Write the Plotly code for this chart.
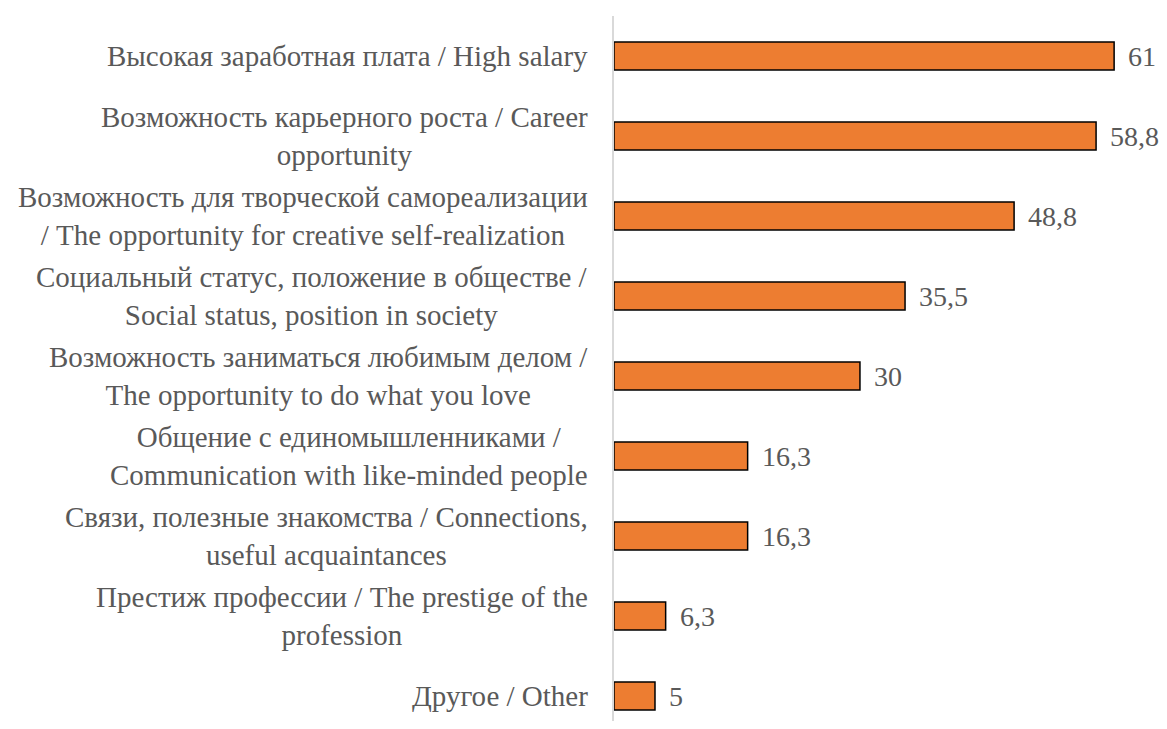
import plotly.graph_objects as go

# Answers, top to bottom as in the chart
categories = [
    "Высокая заработная плата / High salary",
    "Возможность карьерного роста / Career<br>opportunity",
    "Возможность для творческой самореализации<br>/ The opportunity for creative self-realization",
    "Социальный статус, положение в обществе /<br>Social status, position in society",
    "Возможность заниматься любимым делом /<br>The opportunity to do what you love",
    "Общение с единомышленниками /<br>Communication with like-minded people",
    "Связи, полезные знакомства / Connections,<br>useful acquaintances",
    "Престиж профессии / The prestige of the<br>profession",
    "Другое / Other",
]
values = [61, 58.8, 48.8, 35.5, 30, 16.3, 16.3, 6.3, 5]
value_labels = ["61", "58,8", "48,8", "35,5", "30", "16,3", "16,3", "6,3", "5"]

FONT = "Liberation Serif, Times New Roman, serif"
TEXT = "#595959"

fig = go.Figure(
    go.Bar(
        x=values,
        y=categories,
        orientation="h",
        width=0.35,
        marker=dict(color="#ED7D31", line=dict(color="#000000", width=1.5)),
        hoverinfo="x+y",
    )
)

annotations = []
for cat in categories:
    annotations.append(dict(
        text=cat, x=0, xref="paper", y=cat, yref="y",
        xanchor="right", yanchor="middle", xshift=-24, align="center",
        showarrow=False, font=dict(family=FONT, size=29, color=TEXT),
    ))
for cat, v, lab in zip(categories, values, value_labels):
    annotations.append(dict(
        text=lab, x=v, xref="x", y=cat, yref="y",
        xanchor="left", yanchor="middle", xshift=12, showarrow=False,
        font=dict(family=FONT, size=28, color=TEXT),
    ))

# page body has an 8px margin, so the figure is a bit smaller and shifted
fig.update_layout(
    width=1159,
    height=713,
    paper_bgcolor="white",
    plot_bgcolor="white",
    margin=dict(l=606, r=0, t=8, b=0),
    showlegend=False,
    xaxis=dict(range=[0, 67.45], visible=False),
    yaxis=dict(
        type="category",
        range=[8.3125, -0.5],
        showticklabels=False,
        ticks="",
        showgrid=False,
        showline=True,
        linecolor="#d9d9d9",
        linewidth=1.5,
        zeroline=False,
    ),
    annotations=annotations,
)

fig.write_html("out.html")
